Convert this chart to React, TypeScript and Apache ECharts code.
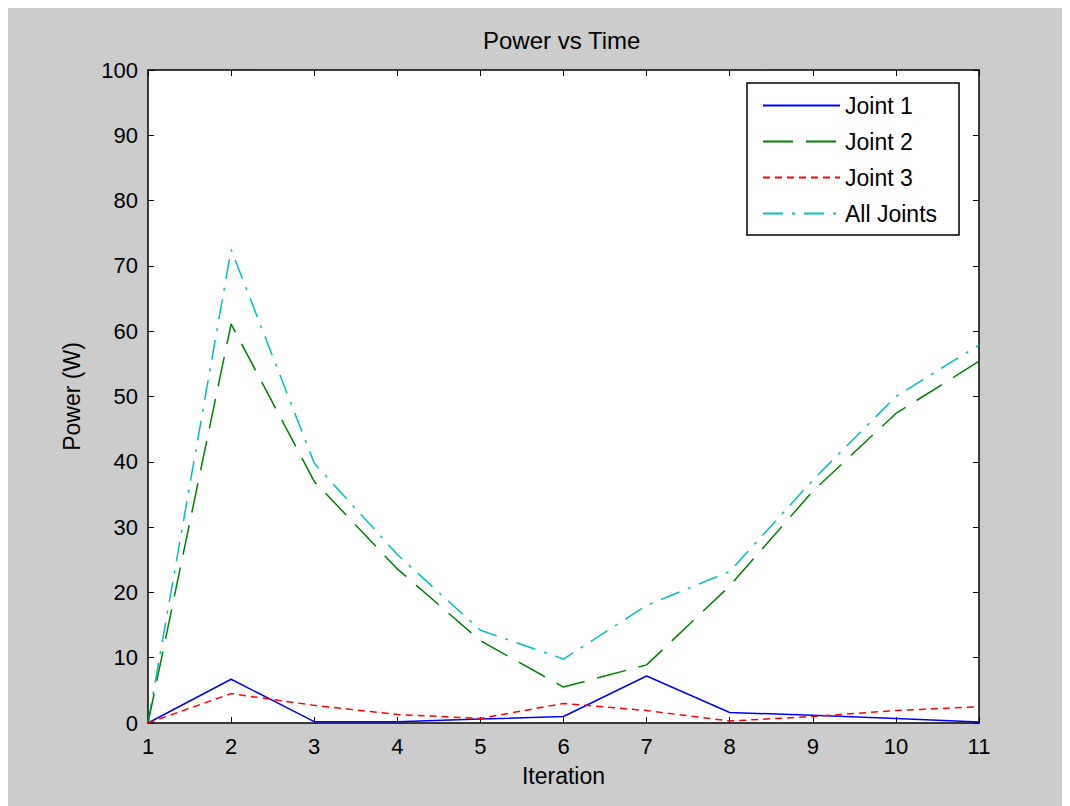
import React, { useEffect, useRef } from "react";
import * as echarts from "echarts";

const iterations = ["1", "2", "3", "4", "5", "6", "7", "8", "9", "10", "11"];
const joint1 = [0, 6.7, 0.2, 0.2, 0.6, 1.0, 7.2, 1.6, 1.2, 0.7, 0.15];
const joint2 = [0, 61.1, 37, 23.6, 12.6, 5.5, 8.9, 21, 35.5, 47.4, 55.4];
const joint3 = [0, 4.5, 2.7, 1.3, 0.7, 3.0, 1.9, 0.3, 1.0, 1.9, 2.5];
const allJoints = [0, 72.5, 39.8, 25.8, 14.2, 9.8, 18, 23.2, 37.2, 50, 57.9];
const yTicks = [0, 10, 20, 30, 40, 50, 60, 70, 80, 90, 100];

const FONT = "'Liberation Sans', Arial, sans-serif";
const TXT = "#000000";

export default function App() {
  const ref = useRef<HTMLDivElement>(null);
  useEffect(() => {
    if (!ref.current) return;
    const chart = echarts.init(ref.current, undefined, { renderer: "svg" });
    const xData = iterations.map((v) => Number(v));
    const mk = (arr: number[]) => arr.map((v, i) => [xData[i], v]);
    const tickStyle = { show: true, inside: true, length: 6, lineStyle: { color: "#000", width: 1 } };
    chart.setOption({
      animation: false,
      backgroundColor: "#cccccc",
      textStyle: { fontFamily: FONT },
      title: {
        text: "Power vs Time",
        left: 470,
        top: 15,
        textStyle: { fontFamily: FONT, fontSize: 24, fontWeight: "normal", color: TXT },
      },
      legend: {
        orient: "vertical",
        left: 739,
        top: 75,
        padding: [11, 22, 10, 15],
        itemGap: 13,
        itemWidth: 77,
        itemHeight: 20,
        backgroundColor: "#ffffff",
        borderColor: "#000000",
        borderWidth: 1.5,
        borderRadius: 0,
        itemStyle: { opacity: 0, borderWidth: 0 },
        textStyle: { fontFamily: FONT, fontSize: 23, color: TXT },
        data: ["Joint 1", "Joint 2", "Joint 3", "All Joints"],
      },
      grid: {
        left: 140,
        top: 62,
        right: 91,
        bottom: 83,
        show: true,
        backgroundColor: "#ffffff",
        borderWidth: 0,
      },
      xAxis: [
        {
          type: "value",
          min: 1,
          max: 11,
          interval: 1,
          name: "Iteration",
          nameLocation: "middle",
          nameGap: 41,
          nameTextStyle: { fontFamily: FONT, fontSize: 23, color: TXT },
          axisLine: { show: true, onZero: false, lineStyle: { color: "#000", width: 1.5 } },
          axisTick: tickStyle,
          axisLabel: { fontFamily: FONT, fontSize: 22, color: TXT, margin: 12 },
          splitLine: { show: false },
        },
        {
          type: "value",
          position: "top",
          min: 1,
          max: 11,
          interval: 1,
          axisLine: { show: true, onZero: false, lineStyle: { color: "#000", width: 1.5 } },
          axisTick: tickStyle,
          axisLabel: { show: false },
          splitLine: { show: false },
        },
      ],
      yAxis: [
        {
          type: "value",
          min: 0,
          max: 100,
          interval: 10,
          name: "Power (W)",
          nameLocation: "middle",
          nameGap: 65,
          nameTextStyle: { fontFamily: FONT, fontSize: 23, color: TXT },
          axisLine: { show: true, onZero: false, lineStyle: { color: "#000", width: 1.5 } },
          axisTick: tickStyle,
          axisLabel: { fontFamily: FONT, fontSize: 22, color: TXT, margin: 10 },
          splitLine: { show: false },
        },
        {
          type: "value",
          position: "right",
          min: 0,
          max: 100,
          interval: 10,
          axisLine: { show: true, onZero: false, lineStyle: { color: "#000", width: 1.5 } },
          axisTick: tickStyle,
          axisLabel: { show: false },
          splitLine: { show: false },
        },
      ],
      series: [
        {
          name: "Joint 1",
          type: "line",
          data: mk(joint1),
          showSymbol: false,
          symbol: "none",
          lineStyle: { color: "#0000ff", width: 1.5, type: "solid" },
          itemStyle: { color: "#0000ff" },
          z: 5,
        },
        {
          name: "Joint 2",
          type: "line",
          data: mk(joint2),
          showSymbol: false,
          symbol: "none",
          lineStyle: { color: "#008000", width: 1.5, type: [30, 13] },
          itemStyle: { color: "#008000" },
          z: 4,
        },
        {
          name: "Joint 3",
          type: "line",
          data: mk(joint3),
          showSymbol: false,
          symbol: "none",
          lineStyle: { color: "#ff0000", width: 1.5, type: [7, 5] },
          itemStyle: { color: "#ff0000" },
          z: 6,
        },
        {
          name: "All Joints",
          type: "line",
          data: mk(allJoints),
          showSymbol: false,
          symbol: "none",
          lineStyle: { color: "#00bfbf", width: 1.5, type: [20, 9, 3, 9] },
          itemStyle: { color: "#00bfbf" },
          z: 3,
        },
      ],
    });
    return () => chart.dispose();
  }, []);
  return <div ref={ref} style={{ width: 1062, height: 798 }} />;
}
